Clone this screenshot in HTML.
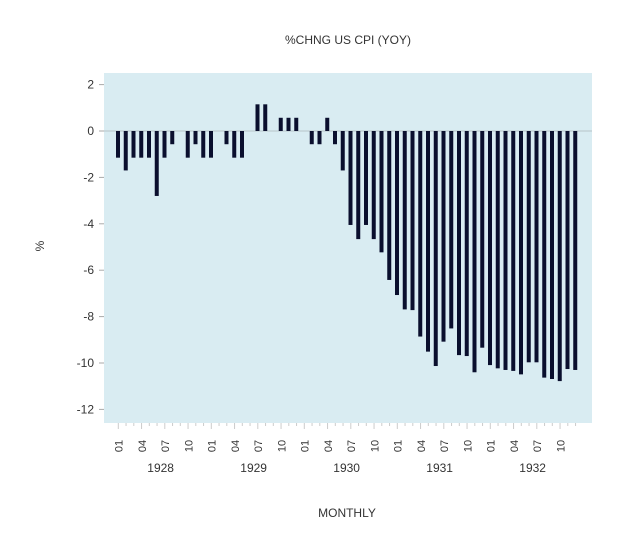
<!DOCTYPE html>
<html><head><meta charset="utf-8"><style>
body{margin:0;background:#fff;}
svg{display:block;font-family:"Liberation Sans",Arial,sans-serif;}
</style></head><body>
<svg id="chart" width="620" height="548" viewBox="0 0 620 548">
<rect x="0" y="0" width="620" height="548" fill="#ffffff"/>
<text x="348" y="44" font-size="12" fill="#333" text-anchor="middle">%CHNG US CPI (YOY)</text>
<rect x="104" y="73" width="488" height="350" fill="#d9ecf2"/>
<g id="grid"></g><g id="bars"></g><g id="yaxis"></g><g id="xaxis"></g>
<text x="44" y="246" font-size="12" fill="#333" text-anchor="middle" transform="rotate(-90 44 246)">%</text>
<text x="347" y="517" font-size="12" fill="#333" text-anchor="middle">MONTHLY</text>
</svg>
<script>
const values = [-1.15,-1.7,-1.15,-1.15,-1.15,-2.8,-1.15,-0.57,0,-1.15,-0.57,-1.15,
-1.15,0,-0.57,-1.15,-1.15,0,1.15,1.15,0,0.57,0.57,0.57,
0,-0.57,-0.57,0.57,-0.57,-1.7,-4.05,-4.66,-4.05,-4.66,-5.23,-6.42,
-7.07,-7.69,-7.72,-8.86,-9.51,-10.13,-9.08,-8.51,-9.66,-9.7,-10.4,-9.34,
-10.09,-10.23,-10.3,-10.34,-10.49,-9.97,-9.97,-10.63,-10.69,-10.78,-10.26,-10.3];
const yTicks = [2,0,-2,-4,-6,-8,-10,-12];
const monthLabels = ["01","04","07","10"];
const years = ["1928","1929","1930","1931","1932"];
const NS="http://www.w3.org/2000/svg";
const xOf = i => 118 + i*7.75;
const yOf = v => 131 - v*23.2;
function mk(tag,attrs,parent,text){const e=document.createElementNS(NS,tag);for(const k in attrs)e.setAttribute(k,attrs[k]);if(text!==undefined)e.textContent=text;parent.appendChild(e);return e;}
const grid=document.getElementById('grid'),bars=document.getElementById('bars'),ya=document.getElementById('yaxis'),xa=document.getElementById('xaxis');
const zl=mk('line',{x1:104,x2:592,y1:yOf(0),y2:yOf(0),stroke:'#b8c4c8','stroke-width':1},grid);


values.forEach((v,i)=>{
  const y0=yOf(0),y1=yOf(v);
  const r=mk('rect',{x:xOf(i)-2,y:Math.min(y0,y1),width:4,height:Math.abs(y1-y0),fill:'#0a0f2e'},bars);
  
  
});
yTicks.forEach(t=>{
  const y=yOf(t);
  const l=mk('line',{x1:99,x2:104,y1:y,y2:y,stroke:'#aaa'},ya);
  
  
  const tx=mk('text',{x:94,y:y+4,'font-size':12,fill:'#333','text-anchor':'end'},ya,String(t));
  
  
});
values.forEach((v,i)=>{
  const l=mk('line',{x1:xOf(i)+0.3,x2:xOf(i)+0.3,y1:423,y2:(i%3===0)?429:426,stroke:'#ccc'},xa);
  
  
});
years.forEach((yr,k)=>{
  monthLabels.forEach((m,j)=>{
    const i=k*12+j*3, x=xOf(i)+4.5;
    const t=mk('text',{x:x,y:446,'font-size':11,fill:'#333','text-anchor':'middle',transform:'rotate(-90 '+x+' 446)'},xa,m);
    
    
  });
  const yt=mk('text',{x:xOf(k*12+5.5),y:472,'font-size':12,fill:'#333','text-anchor':'middle'},xa,yr);
  
  
});
</script>
</body></html>
